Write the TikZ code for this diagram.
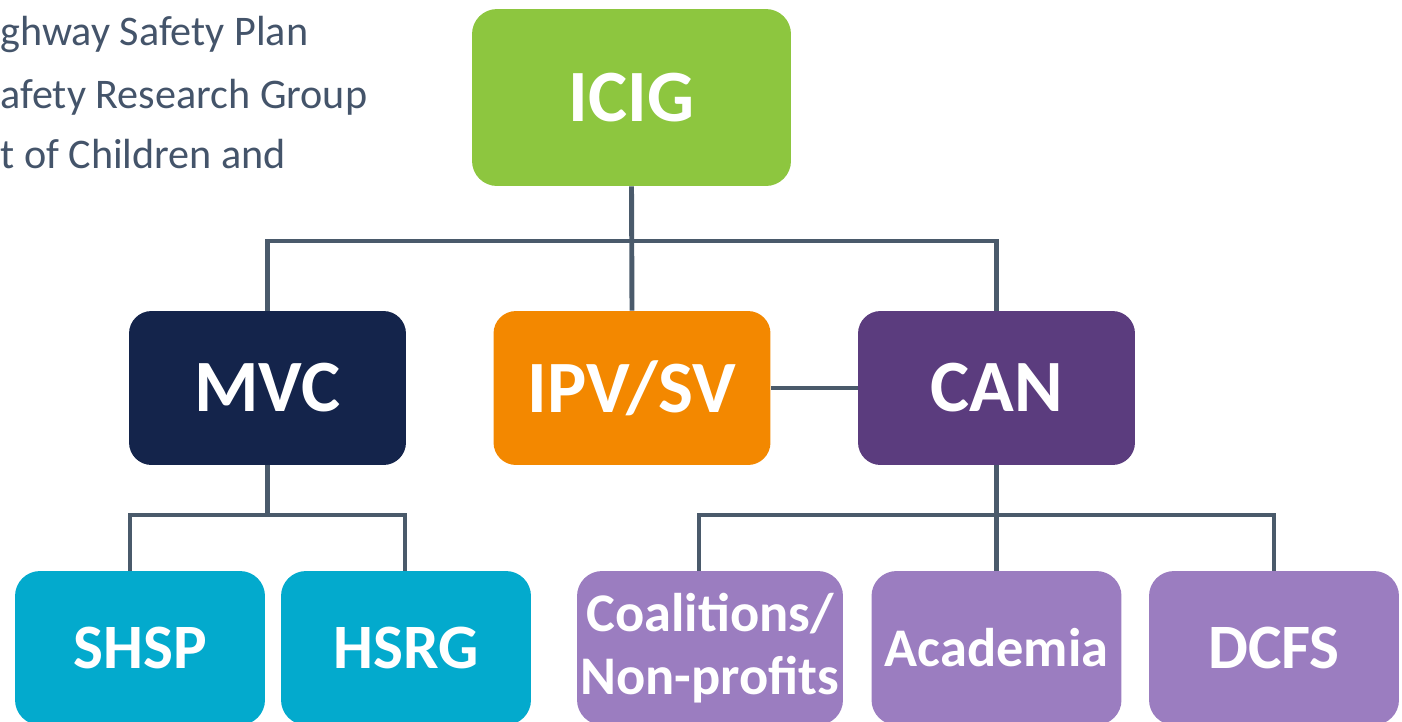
\documentclass[tikz,border=0pt]{standalone}
\usepackage{fontspec}
\setmainfont{Carlito}
\usepackage{tikz}
\usetikzlibrary{calc}
\definecolor{icigGreen}{HTML}{8DC63F}
\definecolor{mvcNavy}{HTML}{14244B}
\definecolor{ipvOrange}{HTML}{F38800}
\definecolor{canPurple}{HTML}{5B3C7E}
\definecolor{subTeal}{HTML}{03AACD}
\definecolor{subLilac}{HTML}{9B7DC0}
\definecolor{lineGray}{HTML}{4A5A6B}
\definecolor{noteGray}{HTML}{44546A}

\tikzset{
  box/.style={rounded corners=0.45cm, text=white, align=center, inner sep=0pt},
  topbox/.style={box, minimum width=6.38cm, minimum height=3.54cm,
    font=\fontsize{42}{48}\selectfont\bfseries},
  midbox/.style={box, minimum width=5.54cm, minimum height=3.08cm,
    font=\fontsize{42}{48}\selectfont\bfseries},
  lowbox/.style={box, minimum width=5.0cm, minimum height=3.08cm,
    font=\fontsize{36}{40}\selectfont\bfseries},
  link/.style={draw=lineGray, line width=2.8pt},
  note/.style={anchor=base west, inner sep=0pt, text=noteGray,
    font=\fontsize{24}{28}\selectfont}
}

\begin{document}
\begin{tikzpicture}[x=0.02cm, y=-0.02cm]
\useasboundingbox (0,0) rectangle (1402,721);

% text cut off at the left
\node[note] (note1) at (0,45) {ghway Safety Plan};
\node[note] (note2) at (0,108) {afety Research Group};
\node[note] (note3) at (0,168) {t of Children and};

% top
\node[topbox, fill=icigGreen, rounded corners=0.5cm] (icig) at (631.5,97.5) {ICIG};

% middle row
\node[midbox, fill=mvcNavy] (mvc) at (267.5,388) {MVC};
\node[midbox, fill=ipvOrange] (ipv) at (632,388) {IPV/SV};
\node[midbox, fill=canPurple] (can) at (996.5,388) {CAN};

% bottom row
\node[lowbox, fill=subTeal, rounded corners=0.5cm] (shsp) at (140,648) {SHSP};
\node[lowbox, fill=subTeal, rounded corners=0.5cm] (hsrg) at (406,648) {HSRG};
\node[lowbox, fill=subLilac, rounded corners=0.5cm, minimum width=5.32cm,
  font=\fontsize{31}{36}\selectfont\bfseries] (coal) at (710,648) {Coalitions/\\Non-profits};
\node[lowbox, fill=subLilac, rounded corners=0.5cm,
  font=\fontsize{31}{36}\selectfont\bfseries] (acad) at (996.5,648) {Academia};
\node[lowbox, fill=subLilac, rounded corners=0.5cm] (dcfs) at (1274,648) {DCFS};

% connectors
\coordinate (topbar) at (0,241);
\coordinate (mvcl) at (130,515);
\coordinate (mvcr) at (405,515);
\coordinate (canl) at (699,515);
\coordinate (canr) at (1274,515);

\draw[link] (icig.south) -- (ipv.north);
\draw[link] (mvc.north) -- (mvc.north |- topbar) -- (can.north |- topbar) -- (can.north);
\draw[link] (ipv.east) -- (can.west);

\draw[link] (mvc.south) -- (mvc.south |- mvcl);
\draw[link] (mvcl |- shsp.north) -- (mvcl) -- (mvcr) -- (mvcr |- hsrg.north);

\draw[link] (can.south) -- (acad.north);
\draw[link] (canl |- coal.north) -- (canl) -- (canr) -- (canr |- dcfs.north);
\end{tikzpicture}
\end{document}
